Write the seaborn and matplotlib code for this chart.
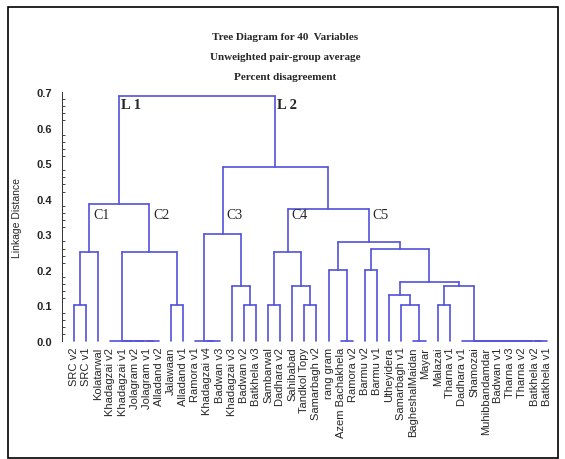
import pandas as pd
import matplotlib
matplotlib.use("Agg")
import matplotlib.pyplot as plt
from matplotlib.patches import Rectangle
from matplotlib.ticker import MultipleLocator
import seaborn as sns

# Leaves in tree order
leaves = ["SRC v2", "SRC v1", "Kolatarwal", "Khadagzai v2", "Khadagzai v1",
          "Jolagram v2", "Jolagram v1", "Alladand v2", "Jalawaan", "Alladand v1",
          "Ramora v1", "Khadagzai v4", "Badwan v3", "Khadagzai v3", "Badwan v2",
          "Batkhela v3", "Sambarwal", "Dadhara v2", "Sahibabad", "Tandkol Topy",
          "Samarbagh v2", "rang gram", "Azem Bachakhela", "Ramora v2", "Barmu v2",
          "Barmu v1", "Utheyidera", "Samarbagh v1", "BagheshalMaidan", "Mayar",
          "Malazai", "Tharna v1", "Dadhara v1", "Shamozai", "Muhibbandamdar",
          "Badwan v1", "Tharna v3", "Tharna v2", "Batkhela v2", "Batkhela v1"]

# Linkage rows: leaf ids 0..39, row k makes cluster 40+k
merge_left = [0, 40, 6, 5, 4, 3, 8, 45, 41,
              11, 10, 14, 13, 50, 16, 19, 18, 54,
              22, 21, 24, 28, 27, 26, 30,
              38, 37, 36, 35, 34, 33, 32,
              64, 63, 60, 59, 57, 53, 48]
merge_right = [1, 2, 7, 42, 43, 44, 9, 46, 47,
               12, 49, 15, 51, 52, 17, 20, 55, 56,
               23, 58, 25, 29, 61, 62, 31,
               39, 65, 66, 67, 68, 69, 70,
               71, 72, 73, 74, 75, 76, 77]
merge_height = [0.10, 0.25, 0.0, 0.0, 0.0, 0.0, 0.10, 0.25, 0.385,
                0.0, 0.0, 0.10, 0.155, 0.30, 0.10, 0.10, 0.155, 0.25,
                0.0, 0.20, 0.20, 0.0, 0.10, 0.13, 0.10,
                0.0, 0.0, 0.0, 0.0, 0.0, 0.0, 0.0,
                0.155, 0.165, 0.26, 0.277, 0.372, 0.488, 0.69]

# Group labels and the cluster they mark
group_names = ["C1", "C2", "C3", "C4", "C5"]
group_nodes = [41, 47, 53, 57, 75]
level_names = ["L 1", "L 2"]
level_nodes = [48, 77]

titles = ["Tree Diagram for 40  Variables",
          "Unweighted pair-group average",
          "Percent disagreement"]

# positions of every node
n = len(leaves)
pos = {i: float(i) for i in range(n)}
hgt = {i: 0.0 for i in range(n)}
rows = []
for k, (a, b, h) in enumerate(zip(merge_left, merge_right, merge_height)):
    node = n + k
    xa, xb = pos[a], pos[b]
    rows += [(3 * k, xa, hgt[a]), (3 * k, xa, h),
             (3 * k + 1, xa, h), (3 * k + 1, xb, h),
             (3 * k + 2, xb, h), (3 * k + 2, xb, hgt[b])]
    pos[node] = (xa + xb) / 2
    hgt[node] = h
segs = pd.DataFrame(rows, columns=["seg", "x", "y"])

sns.set_style("white")
plt.rcParams["font.family"] = ["Liberation Sans", "DejaVu Sans"]

fig = plt.figure(figsize=(5.65, 4.6), dpi=100)
ax = fig.add_axes([62 / 565, 118 / 460, 492 / 565, 249 / 460])

sns.lineplot(data=segs, x="x", y="y", units="seg", estimator=None, sort=False,
             color="#5252dc", linewidth=1.2, legend=False, ax=ax)
for ln in ax.lines:
    ln.set_clip_on(False)

ax.set_xlim(-1, 39.6)
ax.set_ylim(0, 0.7)
ax.set_xticks(range(n))
ax.set_xticklabels(leaves, rotation=90, fontsize=8)
ax.tick_params(axis="x", length=0, pad=4)
ax.yaxis.set_major_locator(MultipleLocator(0.1))
ax.yaxis.set_minor_locator(MultipleLocator(0.02))
ax.yaxis.set_major_formatter(plt.FormatStrFormatter("%.1f"))
ax.tick_params(axis="y", which="major", direction="in", length=4, width=0.7,
               labelsize=8, pad=7)
ax.tick_params(axis="y", which="minor", direction="in", length=2, width=0.6, left=True)
for t in ax.get_yticklabels():
    t.set_fontweight("bold")
for side in ["top", "right", "bottom"]:
    ax.spines[side].set_visible(False)
ax.spines["left"].set_linewidth(0.7)
ax.spines["left"].set_color("#333333")
ax.set_xlabel("")
ax.set_ylabel("Linkage Distance", fontsize=7.5)
ax.yaxis.set_label_coords(-0.082, 0.5)

for name, node in zip(group_names, group_nodes):
    ax.text(pos[node] + 0.3, 0.355, name, family="Liberation Serif",
            fontsize=10, va="center", ha="left")
for name, node in zip(level_names, level_nodes):
    ax.text(pos[node] + 0.15, 0.665, name, family="Liberation Serif",
            fontsize=10.5, fontweight="bold", va="center", ha="left")

for i, line in enumerate(titles):
    fig.text(0.505, 1 - (38 + 20 * i) / 460, line, family="Liberation Serif",
             fontsize=8, fontweight="bold", ha="center", va="center")

fig.add_artist(Rectangle((8 / 565, 1 / 460), 550 / 565, 451 / 460,
                         transform=fig.transFigure, fill=False,
                         edgecolor="black", linewidth=1.2))

fig.savefig("out.png", dpi=100)
